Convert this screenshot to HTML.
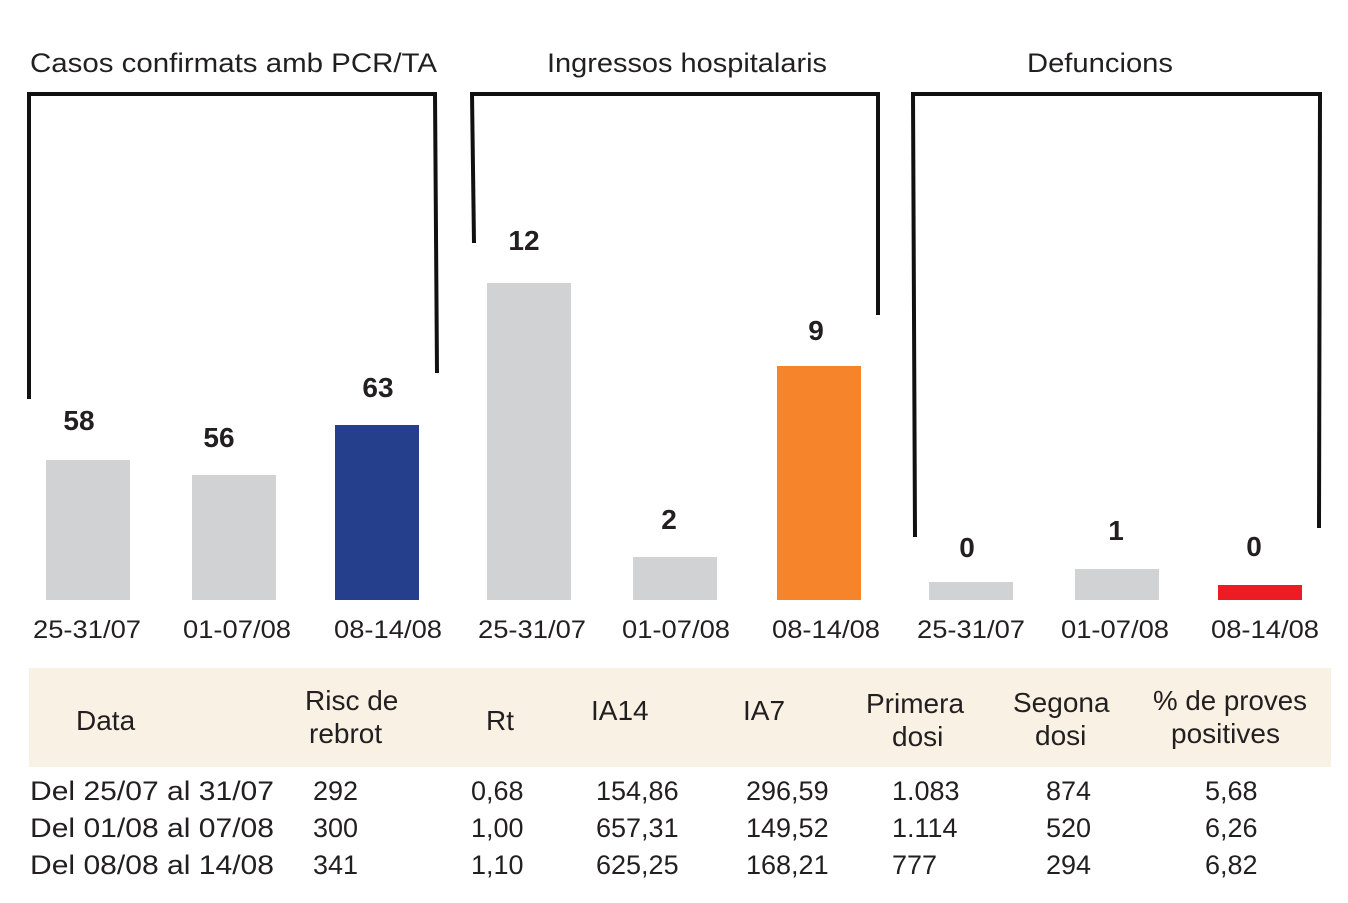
<!DOCTYPE html>
<html><head><meta charset="utf-8"><style>
html,body{margin:0;padding:0;background:#fff}
svg{display:block}
text{font-family:"Liberation Sans",sans-serif;fill:#231f20}
.t{font-size:27px}
.v{font-size:28px;font-weight:bold}
.x{font-size:25px}
.h{font-size:28px}
.r{font-size:27px}
</style></head><body>
<svg width="1348" height="903" viewBox="0 0 1348 903">
<text class="t" x="30" y="72" textLength="407" lengthAdjust="spacingAndGlyphs">Casos confirmats amb PCR/TA</text>
<text class="t" x="547" y="72" textLength="280" lengthAdjust="spacingAndGlyphs">Ingressos hospitalaris</text>
<text class="t" x="1027" y="72" textLength="146" lengthAdjust="spacingAndGlyphs">Defuncions</text>
<g fill="none" stroke="#111" stroke-width="4">
<polyline points="29,399 29,94 435,94 437,373"/>
<polyline points="474,243 472,94 878,94 878,315"/>
<polyline points="915,537 913,94 1320,94 1319,528"/>
</g>
<g>
<rect x="46" y="460" width="84" height="140" fill="#d1d2d4"/>
<rect x="192" y="475" width="84" height="125" fill="#d1d2d4"/>
<rect x="335" y="425" width="84" height="175" fill="#253f8c"/>
<rect x="487" y="283" width="84" height="317" fill="#d1d2d4"/>
<rect x="633" y="557" width="84" height="43" fill="#d1d2d4"/>
<rect x="777" y="366" width="84" height="234" fill="#f5842b"/>
<rect x="929" y="582" width="84" height="18" fill="#d1d2d4"/>
<rect x="1075" y="569" width="84" height="31" fill="#d1d2d4"/>
<rect x="1218" y="585" width="84" height="15" fill="#ed1c24"/>
</g>
<g text-anchor="middle">
<text class="v" x="79" y="430">58</text>
<text class="v" x="219" y="447">56</text>
<text class="v" x="378" y="397">63</text>
<text class="v" x="524" y="250">12</text>
<text class="v" x="669" y="529">2</text>
<text class="v" x="816" y="340">9</text>
<text class="v" x="967" y="557">0</text>
<text class="v" x="1116" y="540">1</text>
<text class="v" x="1254" y="556">0</text>
</g>
<g>
<text class="x" x="33" y="638" textLength="108" lengthAdjust="spacingAndGlyphs">25-31/07</text>
<text class="x" x="183" y="638" textLength="108" lengthAdjust="spacingAndGlyphs">01-07/08</text>
<text class="x" x="334" y="638" textLength="108" lengthAdjust="spacingAndGlyphs">08-14/08</text>
<text class="x" x="478" y="638" textLength="108" lengthAdjust="spacingAndGlyphs">25-31/07</text>
<text class="x" x="622" y="638" textLength="108" lengthAdjust="spacingAndGlyphs">01-07/08</text>
<text class="x" x="772" y="638" textLength="108" lengthAdjust="spacingAndGlyphs">08-14/08</text>
<text class="x" x="917" y="638" textLength="108" lengthAdjust="spacingAndGlyphs">25-31/07</text>
<text class="x" x="1061" y="638" textLength="108" lengthAdjust="spacingAndGlyphs">01-07/08</text>
<text class="x" x="1211" y="638" textLength="108" lengthAdjust="spacingAndGlyphs">08-14/08</text>
</g>
<rect x="29" y="668" width="1302" height="99" fill="#f8f1e4"/>
<text class="h" x="76" y="730">Data</text>
<text class="h" x="305" y="710">Risc de</text>
<text class="h" x="309" y="743">rebrot</text>
<text class="h" x="486" y="730">Rt</text>
<text class="h" x="591" y="720">IA14</text>
<text class="h" x="743" y="720">IA7</text>
<text class="h" x="866" y="713">Primera</text>
<text class="h" x="892" y="746">dosi</text>
<text class="h" x="1013" y="712">Segona</text>
<text class="h" x="1035" y="745">dosi</text>
<text class="h" x="1153" y="710" textLength="154" lengthAdjust="spacingAndGlyphs">% de proves</text>
<text class="h" x="1171" y="743">positives</text>
<g>
<text class="r" x="30" y="800" textLength="244" lengthAdjust="spacingAndGlyphs">Del 25/07 al 31/07</text>
<text class="r" x="30" y="837" textLength="244" lengthAdjust="spacingAndGlyphs">Del 01/08 al 07/08</text>
<text class="r" x="30" y="874" textLength="244" lengthAdjust="spacingAndGlyphs">Del 08/08 al 14/08</text>
<text class="r" x="313" y="800">292</text><text class="r" x="313" y="837">300</text><text class="r" x="313" y="874">341</text>
<text class="r" x="471" y="800">0,68</text><text class="r" x="471" y="837">1,00</text><text class="r" x="471" y="874">1,10</text>
<text class="r" x="596" y="800">154,86</text><text class="r" x="596" y="837">657,31</text><text class="r" x="596" y="874">625,25</text>
<text class="r" x="746" y="800">296,59</text><text class="r" x="746" y="837">149,52</text><text class="r" x="746" y="874">168,21</text>
<text class="r" x="892" y="800">1.083</text><text class="r" x="892" y="837">1.114</text><text class="r" x="892" y="874">777</text>
<text class="r" x="1046" y="800">874</text><text class="r" x="1046" y="837">520</text><text class="r" x="1046" y="874">294</text>
<text class="r" x="1205" y="800">5,68</text><text class="r" x="1205" y="837">6,26</text><text class="r" x="1205" y="874">6,82</text>
</g>
</svg>
</body></html>
